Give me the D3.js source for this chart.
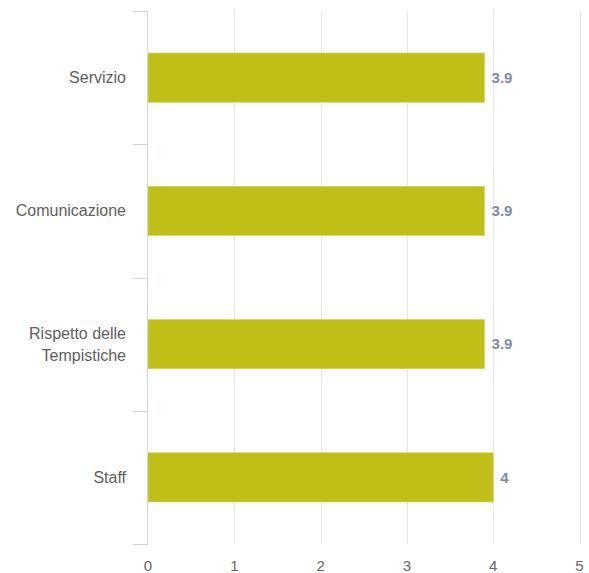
<!DOCTYPE html>
<html>
<head>
<meta charset="utf-8">
<script src="https://cdn.jsdelivr.net/npm/d3@7"></script>
<style>
  html, body { margin: 0; padding: 0; background: #fff; }
  svg { display: block; font-family: "Liberation Sans", Arial, sans-serif; }
</style>
</head>
<body>
<svg id="chart" width="589" height="573"></svg>
<script>
// Category labels (line breaks marked with \n) and their average scores
const categories = ["Servizio", "Comunicazione", "Rispetto delle\nTempistiche", "Staff"];
const scores = [3.9, 3.9, 3.9, 4];
const scoreLabels = ["3.9", "3.9", "3.9", "4"];
const xTicks = [0, 1, 2, 3, 4, 5];

const svg = d3.select("#chart");
const margin = { left: 148, right: 9, top: 11, bottom: 29 };
const W = 589, H = 573;

const x = d3.scaleLinear().domain([0, 5]).range([margin.left, W - margin.right - 0.5]);
const y = d3.scaleBand().domain(categories).range([margin.top, H - margin.bottom]).paddingInner(0.63).paddingOuter(0.315);
const yb = d3.scaleBand().domain(categories).range([margin.top, H - margin.bottom]);

// vertical grid lines
svg.append("g").selectAll("line").data(xTicks.slice(1)).join("line")
  .attr("x1", d => Math.round(x(d)) + 0.5).attr("x2", d => Math.round(x(d)) + 0.5)
  .attr("y1", margin.top).attr("y2", H - margin.bottom)
  .attr("stroke", "#e6e6e6").attr("stroke-width", 1);

// bars
svg.append("g").selectAll("rect").data(categories).join("rect")
  .attr("x", x(0))
  .attr("y", d => y(d))
  .attr("width", (d, i) => x(scores[i]) - x(0))
  .attr("height", y.bandwidth())
  .attr("fill", "#bfbf17")
  .attr("stroke", "#d6d66a").attr("stroke-width", 0.6);

// value labels
svg.append("g").selectAll("text").data(categories).join("text")
  .attr("x", (d, i) => x(scores[i]) + 7)
  .attr("y", d => y(d) + y.bandwidth() / 2)
  .attr("dy", "0.35em")
  .attr("font-size", 15).attr("font-weight", "bold")
  .attr("fill", "#7b8ea6")
  .text((d, i) => scoreLabels[i]);

// category axis with tick marks on band boundaries
const axisColor = "#ccd6eb";
const gy = svg.append("g");
gy.append("line")
  .attr("x1", margin.left - 0.5).attr("x2", margin.left - 0.5)
  .attr("y1", margin.top).attr("y2", H - margin.bottom)
  .attr("stroke", axisColor);
const bounds = categories.map(c => yb(c)).concat([H - margin.bottom]);
gy.selectAll("line.tick").data(bounds).join("line").attr("class", "tick")
  .attr("x1", margin.left - 15).attr("x2", margin.left)
  .attr("y1", d => Math.round(d) + 0.5).attr("y2", d => Math.round(d) + 0.5)
  .attr("stroke", axisColor);

// category labels (multi-line)
gy.selectAll("text.cat").data(categories).join("text").attr("class", "cat")
  .attr("text-anchor", "end")
  .attr("font-size", 16).attr("fill", "#606060")
  .each(function (d) {
    const lines = d.split("\n");
    const cy = y(d) + y.bandwidth() / 2;
    const lh = 22;
    const t = d3.select(this);
    lines.forEach((ln, k) => {
      t.append("tspan")
        .attr("x", 126)
        .attr("y", cy + (k - (lines.length - 1) / 2) * lh)
        .attr("dy", "0.35em")
        .text(ln);
    });
  });

// value axis labels
svg.append("g").selectAll("text").data(xTicks).join("text")
  .attr("x", d => x(d))
  .attr("y", 571)
  .attr("text-anchor", "middle")
  .attr("font-size", 15).attr("fill", "#666")
  .text(d => d);
</script>
</body>
</html>
